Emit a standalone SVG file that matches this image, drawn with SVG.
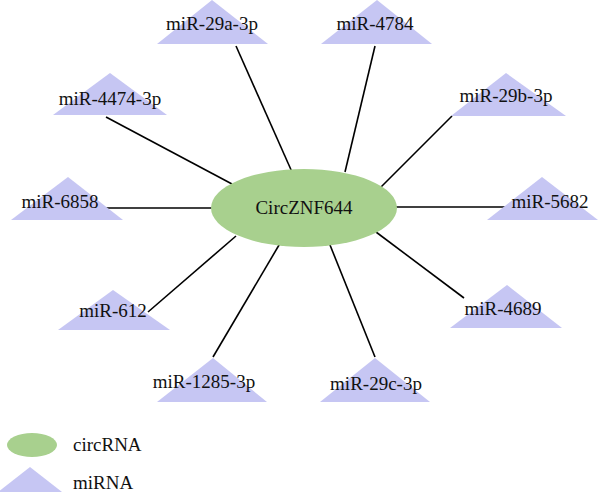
<svg xmlns="http://www.w3.org/2000/svg" width="600" height="492" viewBox="0 0 600 492">
<style>
.tri{fill:#c6c6f3}
.lbl{font-family:'Liberation Serif','Times New Roman','DejaVu Serif',serif;font-size:19px;fill:#111;text-anchor:middle}
.edge{stroke:#000;stroke-width:1.6;fill:none}
.circ{fill:#a8d08e}
</style>
<rect width="600" height="492" fill="#fff"/>
<g id="connectors">
<line class="edge" x1="236" y1="46" x2="292" y2="172"/>
<line class="edge" x1="375" y1="46" x2="345" y2="172"/>
<line class="edge" x1="106" y1="117" x2="232" y2="184"/>
<line class="edge" x1="452" y1="116" x2="378" y2="190"/>
<line class="edge" x1="103" y1="208" x2="215" y2="208"/>
<line class="edge" x1="392" y1="207" x2="505" y2="207"/>
<line class="edge" x1="148" y1="312" x2="236" y2="236"/>
<line class="edge" x1="464" y1="298" x2="376" y2="232"/>
<line class="edge" x1="213" y1="357" x2="282" y2="240"/>
<line class="edge" x1="375" y1="357" x2="328" y2="240"/>
</g>
<g id="miR-29a-3p"><polygon class="tri" points="212,0 157,44 268,44"/><text class="lbl" font-family="Liberation Serif, serif" x="212" y="30">miR-29a-3p</text></g>
<g id="miR-4784"><polygon class="tri" points="377,0 321,44 432,44"/><text class="lbl" x="375" y="30">miR-4784</text></g>
<g id="miR-4474-3p"><polygon class="tri" points="110,73 53,115 167,115"/><text class="lbl" x="110" y="105">miR-4474-3p</text></g>
<g id="miR-29b-3p"><polygon class="tri" points="506,73 451,116 566,116"/><text class="lbl" x="506" y="102">miR-29b-3p</text></g>
<g id="miR-6858"><polygon class="tri" points="68,177 11,220 123,220"/><text class="lbl" x="60" y="208">miR-6858</text></g>
<g id="miR-5682"><polygon class="tri" points="542,177 487,220 598,220"/><text class="lbl" x="550" y="208">miR-5682</text></g>
<g id="miR-612"><polygon class="tri" points="113,290 58,330 170,330"/><text class="lbl" x="113" y="317">miR-612</text></g>
<g id="miR-4689"><polygon class="tri" points="507,285 450,328 562,328"/><text class="lbl" x="503" y="315">miR-4689</text></g>
<g id="miR-1285-3p"><polygon class="tri" points="213,358 157,402 267,402"/><text class="lbl" x="204" y="388">miR-1285-3p</text></g>
<g id="miR-29c-3p"><polygon class="tri" points="375,358 320,402 430,402"/><text class="lbl" x="376" y="390">miR-29c-3p</text></g>
<g id="CircZNF644"><ellipse class="circ" cx="304" cy="208" rx="93" ry="39"/><text class="lbl" x="304" y="214">CircZNF644</text></g>
<g id="legend">
<ellipse class="circ" cx="32" cy="445" rx="25" ry="12"/>
<text class="lbl" x="73" y="451" style="text-anchor:start">circRNA</text>
<polygon class="tri" points="30,467 -2,492 62,492"/>
<text class="lbl" x="73" y="489" style="text-anchor:start">miRNA</text>
</g>
</svg>
